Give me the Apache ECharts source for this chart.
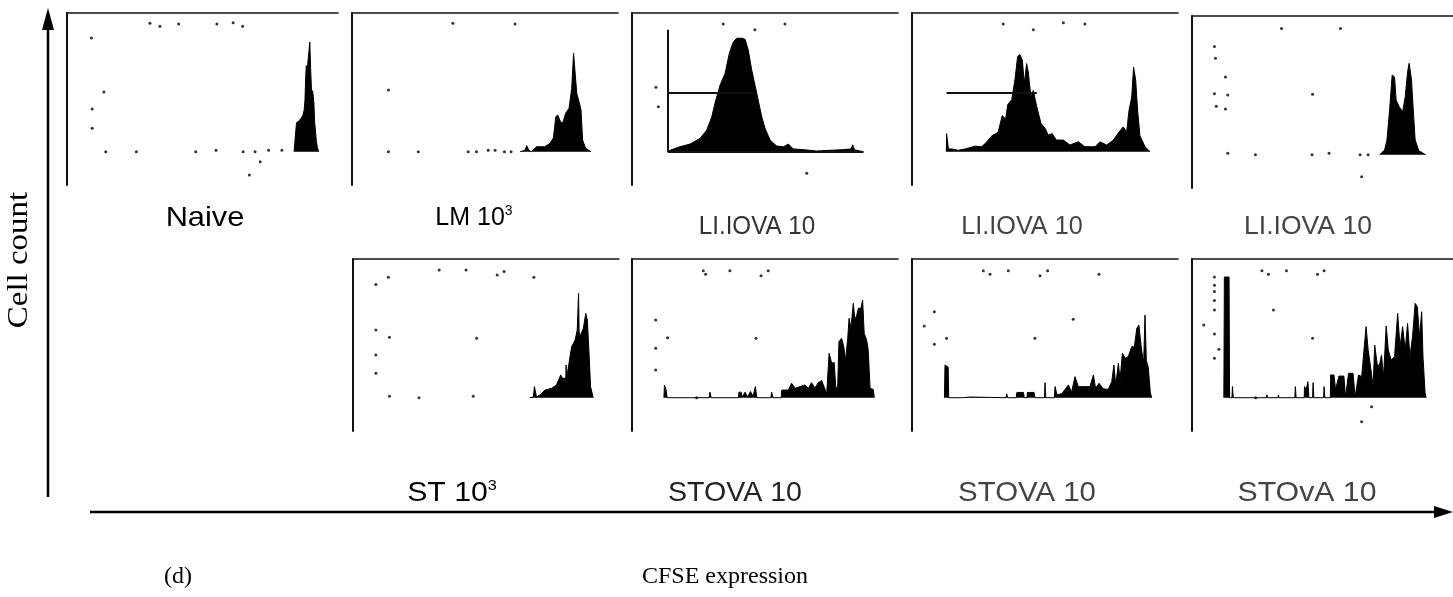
<!DOCTYPE html>
<html><head><meta charset="utf-8">
<script src="https://cdn.jsdelivr.net/npm/echarts/dist/echarts.min.js"></script>
<style>html,body{margin:0;padding:0;background:#fff}#c{width:1453px;height:597px}</style>
</head><body><div id="c"></div>
<script>
// ---------- DATA ----------
const panelLabels = ['Naive', 'LM 10', 'LI.IOVA 10', 'LI.IOVA 10', 'LI.IOVA 10', 'ST 10', 'STOVA 10', 'STOVA 10', 'STOvA 10'];
const panelSup = ['', '3', '', '', '', '3', '', '', ''];
const yAxisTitle = 'Cell count';
const xAxisTitle = 'CFSE expression';
const figTag = '(d)';

// histograms: [CFSE channel (0-100), relative cell count]
const histNaive = [[83.8,0],[84.3,12],[84.7,21],[85.5,22],[86.3,24],[87.0,26],[87.5,30],[87.8,37],[88.1,55],[88.3,62],[88.6,58],[88.9,65],[89.3,73],[89.6,79],[89.9,60],[90.2,45],[90.7,43],[91.1,35],[91.4,21],[92.0,8],[92.4,3],[92.9,0]];
const histLM = [[63.2,0],[65.0,1],[65.7,4.3],[66.5,1],[67.5,0],[68.5,2],[69.4,3.6],[72.5,3.6],[74.4,6],[75.7,9.9],[76.6,25],[77.3,26.5],[78.6,20.7],[79.4,21.6],[80.3,27.7],[81.6,31.3],[82.6,45.7],[83.3,71],[83.8,72],[84.5,42],[85.5,35],[86.1,30],[86.7,8.4],[87.8,2.6],[89.8,0]];
const histLI1 = [[13.4,0],[14.3,1],[18,3.6],[21.8,5.5],[25.6,9.6],[28.1,15.6],[30,25.2],[31.2,35],[33.1,48],[35,56.5],[36.6,71],[38.1,79.3],[39.4,81.8],[41.5,81.8],[42.5,81],[43.7,73.3],[45,59],[46.9,42],[48.8,25],[50,16.9],[51.9,8.4],[54.4,4.1],[57,3.6],[58.8,5.5],[60.6,2],[64.4,1.5],[69.4,0.5],[74.4,1],[79.4,1.5],[82.3,2],[83,5],[83.6,1.5],[84.5,1],[87,0]];
const histLI2 = [[12.9,0],[13,13],[13.5,13],[13.7,2],[14.9,2],[17.5,1],[20,2],[23.7,4],[26.2,3.6],[28.1,7],[30,11.5],[32.4,14],[33.9,26],[35.2,23.6],[36,34],[37.5,37.5],[38.7,52],[39.7,68.6],[40.6,70],[41.5,66],[42.2,49],[43.1,63.5],[43.7,57.6],[44.7,39.4],[45.6,44.2],[46.9,32.4],[48.5,20.4],[50,17],[51.2,12],[52.7,13],[54.3,8.4],[56.9,8.4],[59.4,4.8],[62.5,7.2],[65,3.6],[68.8,3.6],[70.7,7.2],[73.2,4.8],[75.7,8.4],[77.6,13.6],[79.4,17.9],[80.7,14.3],[81.6,30],[82.6,39.4],[83.3,61],[84.1,51.5],[84.8,30],[85.7,11.5],[87.6,3.6],[89.5,0]];
const histLI3 = [[71.9,0],[73.8,3.4],[74.7,10.6],[75.7,32],[76.7,57.5],[77.6,56],[78.2,39.4],[79.4,34.6],[80.7,31],[81.7,41.8],[82.6,59.8],[83.2,65.9],[84.1,53.9],[84.7,34.6],[85.5,10.6],[86.9,2.9],[89.5,0]];
const histST = [[66.5,0],[67.8,0.5],[68.2,8],[68.6,8],[69,0.5],[70.3,2],[72.2,5.5],[74.7,6.8],[76.5,9.2],[78.1,16.4],[78.8,14],[80.0,14],[80.1,23.6],[80.3,14],[80.6,14],[82.2,36.8],[83.5,41.6],[84.3,48.8],[84.7,48.8],[84.8,75.3],[85.0,48],[85.3,44],[86.6,50],[87.5,60.8],[88.1,56],[88.8,29.6],[89.3,8],[90.3,0]];
const histST1 = [[12,0],[12.2,9],[12.8,6],[13.2,0],[29,0],[29.3,4],[29.8,0],[40,0],[40.2,4],[41,4],[41.5,0.5],[42.5,4],[43.5,0.5],[44.5,4.5],[45.5,1],[46.4,8],[46.9,0],[52.2,0],[52.5,4],[53,0],[56.1,0],[56.3,5.5],[58.8,5.5],[60,10.4],[61.3,6.8],[63.2,8],[65,9.2],[66.3,6.8],[67.5,10.8],[68.8,7],[70,10.8],[71.3,12.3],[72.6,6],[73.2,3],[74.1,32],[75.1,24.8],[76,25.5],[76.6,8],[77.3,6],[77.8,40.4],[78.8,42.8],[79.6,36.8],[80.3,27.2],[81.1,42.8],[81.6,57.2],[82.3,50],[83.2,68],[83.8,56],[84.5,59.6],[85.1,64.5],[86.1,64.5],[86.7,70.4],[87.3,46.4],[88.2,41.6],[88.8,34.4],[89.5,6.8],[90.7,6],[91.1,0]];
const histST2 = [[12.2,0],[12.4,23.6],[13.6,22],[13.8,0],[19,0],[19.2,0.5],[22,0.5],[22.2,0],[35.3,0],[35.6,2.7],[36,0],[39.2,0],[39.4,3.8],[41.9,3.8],[42.2,0],[43.2,0],[43.4,3.8],[45.9,3.8],[46.2,0],[49.8,0],[50,10.8],[50.3,0],[53.5,0],[53.8,8],[54.5,2],[56.4,3],[58.8,9.2],[60,4],[61.3,15.2],[62.5,8],[65,8],[66.9,8],[68.2,16.4],[69,6.8],[70.3,10.4],[71.9,6.4],[73.8,6],[75.1,11.6],[75.9,23.6],[76.6,9.2],[77.6,24.8],[78.2,12.8],[79.1,32],[80.1,28.4],[81.3,29.6],[82.6,36.8],[83.6,36.8],[84.5,50],[85.3,52.4],[86.3,34.4],[87.1,25.5],[87.6,59.6],[88.1,26.6],[88.8,22.4],[89.6,3.6],[90.1,0]];
const histST3 = [[12.2,0],[12.4,87],[14.2,87],[14.4,0],[15.3,0],[15.5,8],[15.8,0],[28.5,0],[28.7,2],[29,0],[32.9,0],[33.1,2],[33.4,0],[39.4,0],[39.6,8],[39.9,0],[43,0],[43.1,8],[43.8,6],[44.4,11.6],[44.8,0],[46.2,0],[46.4,10.8],[46.7,0],[50.4,0],[50.6,8],[50.9,0],[53,0],[53.1,16.4],[54.4,16.4],[55,6],[56.3,15.6],[58.2,15.6],[58.8,0.5],[60,17.6],[61.7,17.6],[62.5,0.5],[63.8,16.4],[65,15.2],[65.9,34.4],[66.7,51.2],[67.5,34.4],[68.4,22.4],[69.4,8],[70,38],[70.9,24.8],[71.7,22.4],[72.6,30.8],[73.4,15.2],[74.4,51.7],[75.2,34.4],[76.3,27.2],[77.6,29.6],[78.8,60.8],[79.7,36.8],[80.7,51.2],[81.7,34.4],[82.6,53.6],[83.5,29.6],[84.5,44],[85.5,68],[86.3,65.7],[87.2,44],[88,62],[88.5,29.6],[89.3,3.6],[89.7,0]];

// stray events (dots)
const dotsNaive = [[30.6,92.6],[34.3,90.5],[41.2,92],[55.3,92],[61.3,93],[64.8,90.5],[9.0,82],[13.6,43],[9.3,30.8],[9.3,17],[14.3,0],[25.6,0],[47.5,0],[55,1],[65,0],[69.4,0],[71.3,-7.2],[74.4,1],[79.3,1],[67.3,-16.8]];
const dotsLM = [[13.7,0],[24.9,0],[43.7,0],[46.8,0],[51.2,1],[53.8,1],[57.3,0],[59.8,0],[13.7,44.5],[37.9,92.6],[61.3,92]];
const dotsLI1 = [[34.3,92],[46.2,88],[57.5,92],[9,46.4],[9.9,32.4],[65.7,-15.6]];
const dotsLI2 = [[34.3,92],[45.6,88],[56.9,93],[65,92]];
const dotsLI3 = [[34.3,91],[56.9,91],[8.6,78],[9,69.5],[12.8,56],[8.6,44],[13.7,43],[9.3,35],[12.8,33],[46.2,43.5],[13.7,1],[24.3,0],[46,0],[52.5,1],[64.4,0],[67.5,0],[65,-15.9]];
const dotsST = [[8.6,81.7],[13.3,86.8],[32.4,92],[42.5,92],[54.2,88.5],[56.8,91],[68,86.8],[8.6,48.8],[13.7,43.5],[8.6,30.8],[8.6,17.6],[46.5,42.8],[13.7,1],[24.8,0],[45.2,1]];
const dotsST1 = [[26.8,91.6],[27.7,89],[36.8,91.6],[48.5,88],[51.2,91.6],[8.9,56],[13.4,43.3],[8.9,35.6],[8.9,20],[46.6,42.8],[24.3,0]];
const dotsST2 = [[26.8,91.6],[29.3,89],[36.2,91.6],[48.1,88],[51,91.6],[70.3,89],[8.4,62],[4.6,51.7],[13,42.8],[8.4,38.5],[46.2,42.8],[60.6,56.5]];
const dotsST3 = [[26.8,91.6],[29.3,89],[36.2,91.6],[48.1,89],[50.6,91.6],[8.6,87],[8.6,81],[8.6,76.6],[8.6,70],[8.6,63.2],[4.5,52.4],[8.6,46],[10.3,35],[8.6,28.4],[31.2,63.2],[46.2,42.8],[68.8,-6.5],[65,-17.3],[24.4,0]];

// gates / instrument axes drawn inside panels: [x1, y1, x2, y2]
const gateLI1 = [[13.4,42.5,46.2,42.5],[13.4,0,13.4,88],[13.4,0,87,0]];
const gateLI2 = [[13,42.5,46.9,42.5]];

const hists = [histNaive, histLM, histLI1, histLI2, histLI3, histST, histST1, histST2, histST3];
const dots = [dotsNaive, dotsLM, dotsLI1, dotsLI2, dotsLI3, dotsST, dotsST1, dotsST2, dotsST3];
const gates = [null, null, gateLI1, gateLI2, null, null, null, null, null];

// ---------- LAYOUT ----------
const grids = [
  {left:67, top:13, width:271}, {left:352, top:13, width:266}, {left:632, top:13, width:266},
  {left:912, top:13, width:266}, {left:1192, top:16, width:266},
  {left:353, top:259, width:266}, {left:632, top:259, width:266}, {left:912, top:259, width:266}, {left:1192, top:259, width:266}
];
const labelPos = [[205,218],[474,218],[757,227],[1022,227],[1308,227],[452,493],[735,493],[1027,493],[1307,493]];
const labelStyle = [
  {fill:'#000', size:28, sx:1.1}, {fill:'#000', size:25, sx:1}, {fill:'#333', size:26, sx:0.93}, {fill:'#444', size:26, sx:0.97}, {fill:'#444', size:26, sx:1.02},
  {fill:'#000', size:28, sx:1.08}, {fill:'#222', size:28, sx:1.02}, {fill:'#444', size:28, sx:1.05}, {fill:'#444', size:28, sx:1.08}
];

const chart = echarts.init(document.getElementById('c'), null, {renderer:'canvas'});
const gridOpt = [], xAxes = [], yAxes = [], series = [];
grids.forEach((g, i) => {
  gridOpt.push({left:g.left, top:g.top, width:g.width, height:172, containLabel:false});
  xAxes.push({gridIndex:i, type:'value', min:0, max:100, position:'top',
    axisLine:{show:true, onZero:false, lineStyle:{color:'#111', width:1.5}},
    axisTick:{show:false}, axisLabel:{show:false}, splitLine:{show:false}});
  yAxes.push({gridIndex:i, type:'value', min:-24, max:100, position:'left',
    axisLine:{show:true, onZero:false, lineStyle:{color:'#111', width:2}},
    axisTick:{show:false}, axisLabel:{show:false}, splitLine:{show:false}});
  const s = {type:'line', xAxisIndex:i, yAxisIndex:i, data:hists[i], symbol:'none', silent:true,
    lineStyle:{color:'#000', width:1}, areaStyle:{color:'#000', opacity:1}, animation:false, z:3};
  if (gates[i]) {
    s.markLine = {silent:true, symbol:'none', animation:false, label:{show:false},
      lineStyle:{color:'#111', width:2, type:'solid'},
      data: gates[i].map(gl => [{coord:[gl[0], gl[1]]}, {coord:[gl[2], gl[3]]}])};
  }
  series.push(s);
  series.push({type:'scatter', xAxisIndex:i, yAxisIndex:i, data:dots[i], symbol:'circle', symbolSize:3,
    itemStyle:{color:'#000'}, silent:true, animation:false, z:4});
});

const graphic = [];
panelLabels.forEach((t, i) => {
  const st = labelStyle[i];
  graphic.push({type:'text', x:labelPos[i][0], y:labelPos[i][1], scaleX:st.sx, silent:true,
    style:{text: panelSup[i] ? t + '{s|' + panelSup[i] + '}' : t,
      font: 'normal ' + st.size + 'px "Liberation Sans", Arial, sans-serif', fill: st.fill,
      align:'center', verticalAlign:'middle',
      rich:{s:{fontSize:Math.round(st.size*0.55), fill:st.fill, fontFamily:'"Liberation Sans", Arial, sans-serif', padding:[0,0,Math.round(st.size*0.5),0]}}}});
});
// big axes arrows
graphic.push({type:'line', silent:true, shape:{x1:48, y1:497, x2:48, y2:26}, style:{stroke:'#000', lineWidth:2.5}});
graphic.push({type:'polygon', silent:true, shape:{points:[[48,8],[42,30],[54,30]]}, style:{fill:'#000'}});
graphic.push({type:'line', silent:true, shape:{x1:90, y1:512, x2:1438, y2:512}, style:{stroke:'#000', lineWidth:2.5}});
graphic.push({type:'polygon', silent:true, shape:{points:[[1453,512],[1434,506],[1434,518]]}, style:{fill:'#000'}});
graphic.push({type:'text', silent:true, x:19, y:260, rotation:Math.PI/2, scaleX:1.1,
  style:{text:yAxisTitle, font:'30px "Liberation Serif", "Times New Roman", serif', fill:'#000', align:'center', verticalAlign:'middle'}});
graphic.push({type:'text', silent:true, x:725, y:577,
  style:{text:xAxisTitle, font:'24px "Liberation Serif", "Times New Roman", serif', fill:'#000', align:'center', verticalAlign:'middle'}});
graphic.push({type:'text', silent:true, x:178, y:577,
  style:{text:figTag, font:'24px "Liberation Serif", "Times New Roman", serif', fill:'#000', align:'center', verticalAlign:'middle'}});

chart.setOption({animation:false, backgroundColor:'#fff', grid:gridOpt, xAxis:xAxes, yAxis:yAxes, series:series, graphic:graphic});
</script></body></html>
